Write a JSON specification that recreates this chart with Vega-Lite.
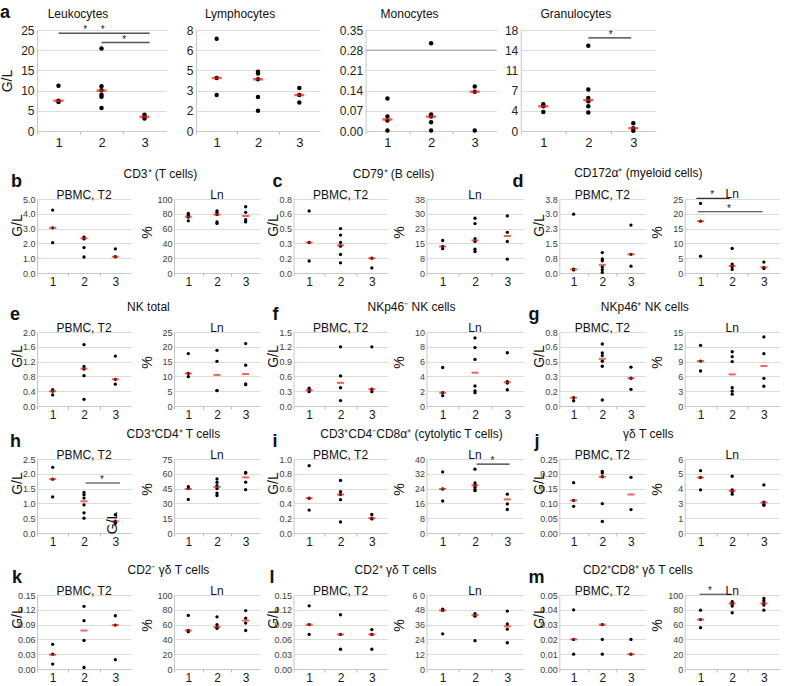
{
"$schema":"https://vega.github.io/schema/vega-lite/v6.json",
"background":"white",
"padding":{"left":0,"top":4,"right":4,"bottom":0},
"config":{
 "font":"Liberation Sans",
 "view":{"stroke":null},
 "title":{"font":"Liberation Sans","fontSize":12,"fontWeight":"normal","color":"#111","baseline":"alphabetic"},
 "axis":{"labelFont":"Liberation Sans","titleFont":"Liberation Sans","gridColor":"#dcdcdc","domainColor":"#c8c8c8","tickColor":"#bdbdbd","titleColor":"#111","titleFontWeight":"normal"},
 "axisX":{"grid":false,"labelFlush":false,"labelOverlap":false,"labelAngle":0,"tickSize":3,"labelPadding":0,"labelFontSize":12,"labelColor":"#1a1a1a"},
 "axisY":{"ticks":false,"labelPadding":2,"labelFontSize":9,"labelColor":"#404040","titleFontSize":14,"titleX":-13,"grid":true}
},
"datasets":{
"pts":[
{"p":"La","g":1,"v":11.2},{"p":"La","g":1,"v":7.5},{"p":"La","g":1,"v":7.2},{"p":"La","g":2,"v":20.4},{"p":"La","g":2,"v":11.1},{"p":"La","g":2,"v":10.1},{"p":"La","g":2,"v":9.0},{"p":"La","g":2,"v":8.5},{"p":"La","g":2,"v":5.7},{"p":"La","g":3,"v":4.0},{"p":"La","g":3,"v":3.5},{"p":"La","g":3,"v":3.1},
{"p":"Ly","g":1,"v":7.3},{"p":"Ly","g":1,"v":4.2},{"p":"Ly","g":1,"v":2.85},{"p":"Ly","g":2,"v":4.7},{"p":"Ly","g":2,"v":4.55},{"p":"Ly","g":2,"v":4.1},{"p":"Ly","g":2,"v":2.7},{"p":"Ly","g":2,"v":1.6},{"p":"Ly","g":3,"v":3.4},{"p":"Ly","g":3,"v":2.85},{"p":"Ly","g":3,"v":2.25},
{"p":"Mo","g":1,"v":0.113},{"p":"Mo","g":1,"v":0.05},{"p":"Mo","g":1,"v":0.036},{"p":"Mo","g":1,"v":0.002},{"p":"Mo","g":2,"v":0.304},{"p":"Mo","g":2,"v":0.057},{"p":"Mo","g":2,"v":0.05},{"p":"Mo","g":2,"v":0.03},{"p":"Mo","g":2,"v":0.002},{"p":"Mo","g":3,"v":0.154},{"p":"Mo","g":3,"v":0.136},{"p":"Mo","g":3,"v":0.002},
{"p":"Gr","g":1,"v":4.75},{"p":"Gr","g":1,"v":4.4},{"p":"Gr","g":1,"v":3.4},{"p":"Gr","g":2,"v":15.2},{"p":"Gr","g":2,"v":7.4},{"p":"Gr","g":2,"v":5.9},{"p":"Gr","g":2,"v":5.3},{"p":"Gr","g":2,"v":4.4},{"p":"Gr","g":2,"v":3.3},{"p":"Gr","g":3,"v":1.4},{"p":"Gr","g":3,"v":0.5},{"p":"Gr","g":3,"v":0.05},
{"p":"bP","g":1,"v":4.25},{"p":"bP","g":1,"v":3.05},{"p":"bP","g":1,"v":2.05},{"p":"bP","g":2,"v":2.43},{"p":"bP","g":2,"v":2.3},{"p":"bP","g":2,"v":1.72},{"p":"bP","g":2,"v":1.08},{"p":"bP","g":3,"v":1.63},{"p":"bP","g":3,"v":1.1},
{"p":"bL","g":1,"v":80.5},{"p":"bL","g":1,"v":78},{"p":"bL","g":1,"v":75.5},{"p":"bL","g":1,"v":70.5},{"p":"bL","g":2,"v":84},{"p":"bL","g":2,"v":82},{"p":"bL","g":2,"v":79},{"p":"bL","g":2,"v":69},{"p":"bL","g":2,"v":67},{"p":"bL","g":3,"v":89.5},{"p":"bL","g":3,"v":82},{"p":"bL","g":3,"v":72},{"p":"bL","g":3,"v":69},
{"p":"cP","g":1,"v":0.67},{"p":"cP","g":1,"v":0.33},{"p":"cP","g":1,"v":0.13},{"p":"cP","g":2,"v":0.48},{"p":"cP","g":2,"v":0.41},{"p":"cP","g":2,"v":0.33},{"p":"cP","g":2,"v":0.29},{"p":"cP","g":2,"v":0.2},{"p":"cP","g":2,"v":0.11},{"p":"cP","g":3,"v":0.16},{"p":"cP","g":3,"v":0.055},
{"p":"cL","g":1,"v":16.7},{"p":"cL","g":1,"v":13.6},{"p":"cL","g":1,"v":12.5},{"p":"cL","g":2,"v":28.1},{"p":"cL","g":2,"v":25.4},{"p":"cL","g":2,"v":17.6},{"p":"cL","g":2,"v":16.2},{"p":"cL","g":2,"v":12.2},{"p":"cL","g":2,"v":11},{"p":"cL","g":3,"v":29.3},{"p":"cL","g":3,"v":20.9},{"p":"cL","g":3,"v":16.2},{"p":"cL","g":3,"v":7.1},
{"p":"dP","g":1,"v":3.02},{"p":"dP","g":1,"v":0.2},{"p":"dP","g":1,"v":0.16},{"p":"dP","g":2,"v":1.05},{"p":"dP","g":2,"v":0.72},{"p":"dP","g":2,"v":0.63},{"p":"dP","g":2,"v":0.31},{"p":"dP","g":2,"v":0.17},{"p":"dP","g":2,"v":0.03},{"p":"dP","g":3,"v":2.46},{"p":"dP","g":3,"v":0.96},{"p":"dP","g":3,"v":0.35},
{"p":"dL","g":1,"v":23.5},{"p":"dL","g":1,"v":17.5},{"p":"dL","g":1,"v":5.7},{"p":"dL","g":2,"v":8.3},{"p":"dL","g":2,"v":3},{"p":"dL","g":2,"v":2.4},{"p":"dL","g":2,"v":2.2},{"p":"dL","g":2,"v":1.2},{"p":"dL","g":3,"v":3.7},{"p":"dL","g":3,"v":1.9},{"p":"dL","g":3,"v":1.5},
{"p":"eP","g":1,"v":0.44},{"p":"eP","g":1,"v":0.4},{"p":"eP","g":1,"v":0.3},{"p":"eP","g":2,"v":1.66},{"p":"eP","g":2,"v":1.07},{"p":"eP","g":2,"v":1.0},{"p":"eP","g":2,"v":0.82},{"p":"eP","g":2,"v":0.18},{"p":"eP","g":3,"v":1.35},{"p":"eP","g":3,"v":0.72},{"p":"eP","g":3,"v":0.59},
{"p":"eL","g":1,"v":17.7},{"p":"eL","g":1,"v":11},{"p":"eL","g":1,"v":9.9},{"p":"eL","g":2,"v":18.8},{"p":"eL","g":2,"v":15.1},{"p":"eL","g":2,"v":5.2},{"p":"eL","g":2,"v":5.2},{"p":"eL","g":3,"v":21.1},{"p":"eL","g":3,"v":13.8},{"p":"eL","g":3,"v":7.5},{"p":"eL","g":3,"v":7.2},
{"p":"fP","g":1,"v":0.36},{"p":"fP","g":1,"v":0.32},{"p":"fP","g":1,"v":0.29},{"p":"fP","g":2,"v":1.2},{"p":"fP","g":2,"v":0.61},{"p":"fP","g":2,"v":0.37},{"p":"fP","g":2,"v":0.11},{"p":"fP","g":3,"v":1.2},{"p":"fP","g":3,"v":0.34},{"p":"fP","g":3,"v":0.29},
{"p":"fL","g":1,"v":5.2},{"p":"fL","g":1,"v":1.8},{"p":"fL","g":1,"v":1.4},{"p":"fL","g":2,"v":9.2},{"p":"fL","g":2,"v":7.9},{"p":"fL","g":2,"v":6.3},{"p":"fL","g":2,"v":2.7},{"p":"fL","g":2,"v":2.05},{"p":"fL","g":2,"v":1.8},{"p":"fL","g":3,"v":7.2},{"p":"fL","g":3,"v":3.3},{"p":"fL","g":3,"v":3.1},{"p":"fL","g":3,"v":2.2},
{"p":"gP","g":1,"v":0.09},{"p":"gP","g":1,"v":0.057},{"p":"gP","g":2,"v":0.67},{"p":"gP","g":2,"v":0.575},{"p":"gP","g":2,"v":0.545},{"p":"gP","g":2,"v":0.485},{"p":"gP","g":2,"v":0.43},{"p":"gP","g":2,"v":0.065},{"p":"gP","g":3,"v":0.42},{"p":"gP","g":3,"v":0.3},{"p":"gP","g":3,"v":0.18},
{"p":"gL","g":1,"v":12.3},{"p":"gL","g":1,"v":9.1},{"p":"gL","g":1,"v":7.1},{"p":"gL","g":2,"v":11},{"p":"gL","g":2,"v":10},{"p":"gL","g":2,"v":9},{"p":"gL","g":2,"v":3.7},{"p":"gL","g":2,"v":3},{"p":"gL","g":2,"v":2.4},{"p":"gL","g":3,"v":14},{"p":"gL","g":3,"v":10.6},{"p":"gL","g":3,"v":5.6},{"p":"gL","g":3,"v":4},
{"p":"hP","g":1,"v":2.22},{"p":"hP","g":1,"v":1.82},{"p":"hP","g":1,"v":1.22},{"p":"hP","g":2,"v":1.37},{"p":"hP","g":2,"v":1.29},{"p":"hP","g":2,"v":1.18},{"p":"hP","g":2,"v":0.95},{"p":"hP","g":2,"v":0.68},{"p":"hP","g":2,"v":0.5},{"p":"hP","g":3,"v":0.62},{"p":"hP","g":3,"v":0.4},{"p":"hP","g":3,"v":0.33},
{"p":"hL","g":1,"v":47},{"p":"hL","g":1,"v":45},{"p":"hL","g":1,"v":34},{"p":"hL","g":2,"v":54.7},{"p":"hL","g":2,"v":51.4},{"p":"hL","g":2,"v":48},{"p":"hL","g":2,"v":45},{"p":"hL","g":2,"v":40.5},{"p":"hL","g":2,"v":38},{"p":"hL","g":3,"v":61.3},{"p":"hL","g":3,"v":60.8},{"p":"hL","g":3,"v":51.5},{"p":"hL","g":3,"v":43.9},
{"p":"iP","g":1,"v":0.91},{"p":"iP","g":1,"v":0.47},{"p":"iP","g":1,"v":0.31},{"p":"iP","g":2,"v":0.71},{"p":"iP","g":2,"v":0.56},{"p":"iP","g":2,"v":0.52},{"p":"iP","g":2,"v":0.45},{"p":"iP","g":2,"v":0.15},{"p":"iP","g":3,"v":0.25},{"p":"iP","g":3,"v":0.2},{"p":"iP","g":3,"v":0.19},
{"p":"iL","g":1,"v":33},{"p":"iL","g":1,"v":23.8},{"p":"iL","g":1,"v":17.3},{"p":"iL","g":2,"v":34.5},{"p":"iL","g":2,"v":27.1},{"p":"iL","g":2,"v":26},{"p":"iL","g":2,"v":24.7},{"p":"iL","g":2,"v":23.4},{"p":"iL","g":2,"v":22.9},{"p":"iL","g":3,"v":21},{"p":"iL","g":3,"v":15.7},{"p":"iL","g":3,"v":12.7},
{"p":"jP","g":1,"v":0.17},{"p":"jP","g":1,"v":0.11},{"p":"jP","g":1,"v":0.09},{"p":"jP","g":2,"v":0.208},{"p":"jP","g":2,"v":0.203},{"p":"jP","g":2,"v":0.19},{"p":"jP","g":2,"v":0.099},{"p":"jP","g":2,"v":0.039},{"p":"jP","g":3,"v":0.188},{"p":"jP","g":3,"v":0.079},
{"p":"jL","g":1,"v":5.05},{"p":"jL","g":1,"v":4.5},{"p":"jL","g":1,"v":3.5},{"p":"jL","g":2,"v":4.6},{"p":"jL","g":2,"v":3.5},{"p":"jL","g":2,"v":3.35},{"p":"jL","g":2,"v":3.15},{"p":"jL","g":3,"v":3.9},{"p":"jL","g":3,"v":2.5},{"p":"jL","g":3,"v":2.3},{"p":"jL","g":3,"v":2.25},
{"p":"kP","g":1,"v":0.05},{"p":"kP","g":1,"v":0.03},{"p":"kP","g":1,"v":0.01},{"p":"kP","g":2,"v":0.127},{"p":"kP","g":2,"v":0.098},{"p":"kP","g":2,"v":0.058},{"p":"kP","g":2,"v":0.003},{"p":"kP","g":3,"v":0.108},{"p":"kP","g":3,"v":0.089},{"p":"kP","g":3,"v":0.019},
{"p":"kL","g":1,"v":72.4},{"p":"kL","g":1,"v":52},{"p":"kL","g":1,"v":50.5},{"p":"kL","g":2,"v":70.5},{"p":"kL","g":2,"v":60},{"p":"kL","g":2,"v":56.5},{"p":"kL","g":2,"v":55},{"p":"kL","g":3,"v":79},{"p":"kL","g":3,"v":68.7},{"p":"kL","g":3,"v":62},{"p":"kL","g":3,"v":52},
{"p":"lP","g":1,"v":0.128},{"p":"lP","g":1,"v":0.09},{"p":"lP","g":1,"v":0.07},{"p":"lP","g":2,"v":0.11},{"p":"lP","g":2,"v":0.07},{"p":"lP","g":2,"v":0.04},{"p":"lP","g":3,"v":0.08},{"p":"lP","g":3,"v":0.07},{"p":"lP","g":3,"v":0.04},
{"p":"lL","g":1,"v":48.5},{"p":"lL","g":1,"v":47.5},{"p":"lL","g":1,"v":28.5},{"p":"lL","g":2,"v":44.8},{"p":"lL","g":2,"v":42.8},{"p":"lL","g":2,"v":23},{"p":"lL","g":3,"v":47},{"p":"lL","g":3,"v":36.5},{"p":"lL","g":3,"v":32.3},{"p":"lL","g":3,"v":21.3},
{"p":"mP","g":1,"v":0.04},{"p":"mP","g":1,"v":0.02},{"p":"mP","g":1,"v":0.01},{"p":"mP","g":2,"v":0.03},{"p":"mP","g":2,"v":0.02},{"p":"mP","g":2,"v":0.01},{"p":"mP","g":3,"v":0.02},{"p":"mP","g":3,"v":0.01},
{"p":"mL","g":1,"v":79.5},{"p":"mL","g":1,"v":66.8},{"p":"mL","g":1,"v":55.9},{"p":"mL","g":2,"v":91},{"p":"mL","g":2,"v":89},{"p":"mL","g":2,"v":88},{"p":"mL","g":2,"v":85},{"p":"mL","g":2,"v":76},{"p":"mL","g":3,"v":95.5},{"p":"mL","g":3,"v":92.3},{"p":"mL","g":3,"v":88.6},{"p":"mL","g":3,"v":86.4},{"p":"mL","g":3,"v":79.5}
],
"med":[
{"p":"La","g":1,"v":7.5},{"p":"La","g":2,"v":10.0},{"p":"La","g":3,"v":3.5},
{"p":"Ly","g":1,"v":4.2},{"p":"Ly","g":2,"v":4.1},{"p":"Ly","g":3,"v":2.85},
{"p":"Mo","g":1,"v":0.04},{"p":"Mo","g":2,"v":0.05},{"p":"Mo","g":3,"v":0.136},
{"p":"Gr","g":1,"v":4.4},{"p":"Gr","g":2,"v":5.5},{"p":"Gr","g":3,"v":0.5},
{"p":"bP","g":1,"v":3.05},{"p":"bP","g":2,"v":2.34},{"p":"bP","g":3,"v":1.1},
{"p":"bL","g":1,"v":76},{"p":"bL","g":2,"v":79},{"p":"bL","g":3,"v":77},
{"p":"cP","g":1,"v":0.33},{"p":"cP","g":2,"v":0.30},{"p":"cP","g":3,"v":0.16},
{"p":"cL","g":1,"v":13.6},{"p":"cL","g":2,"v":16.7},{"p":"cL","g":3,"v":19.0},
{"p":"dP","g":1,"v":0.19},{"p":"dP","g":2,"v":0.42},{"p":"dP","g":3,"v":0.96},
{"p":"dL","g":1,"v":17.5},{"p":"dL","g":2,"v":2.4},{"p":"dL","g":3,"v":1.9},
{"p":"eP","g":1,"v":0.40},{"p":"eP","g":2,"v":1.01},{"p":"eP","g":3,"v":0.72},
{"p":"eL","g":1,"v":11.0},{"p":"eL","g":2,"v":10.5},{"p":"eL","g":3,"v":10.8},
{"p":"fP","g":1,"v":0.32},{"p":"fP","g":2,"v":0.47},{"p":"fP","g":3,"v":0.34},
{"p":"fL","g":1,"v":1.8},{"p":"fL","g":2,"v":4.5},{"p":"fL","g":3,"v":3.2},
{"p":"gP","g":1,"v":0.09},{"p":"gP","g":2,"v":0.51},{"p":"gP","g":3,"v":0.30},
{"p":"gL","g":1,"v":9.1},{"p":"gL","g":2,"v":6.4},{"p":"gL","g":3,"v":8.1},
{"p":"hP","g":1,"v":1.82},{"p":"hP","g":2,"v":1.07},{"p":"hP","g":3,"v":0.39},
{"p":"hL","g":1,"v":44.6},{"p":"hL","g":2,"v":46.6},{"p":"hL","g":3,"v":56.4},
{"p":"iP","g":1,"v":0.47},{"p":"iP","g":2,"v":0.52},{"p":"iP","g":3,"v":0.20},
{"p":"iL","g":1,"v":23.8},{"p":"iL","g":2,"v":25.8},{"p":"iL","g":3,"v":18.2},
{"p":"jP","g":1,"v":0.11},{"p":"jP","g":2,"v":0.19},{"p":"jP","g":3,"v":0.13},
{"p":"jL","g":1,"v":4.5},{"p":"jL","g":2,"v":3.42},{"p":"jL","g":3,"v":2.47},
{"p":"kP","g":1,"v":0.029},{"p":"kP","g":2,"v":0.078},{"p":"kP","g":3,"v":0.089},
{"p":"kL","g":1,"v":52},{"p":"kL","g":2,"v":56.7},{"p":"kL","g":3,"v":65.4},
{"p":"lP","g":1,"v":0.09},{"p":"lP","g":2,"v":0.07},{"p":"lP","g":3,"v":0.07},
{"p":"lL","g":1,"v":47.5},{"p":"lL","g":2,"v":43.7},{"p":"lL","g":3,"v":34.6},
{"p":"mP","g":1,"v":0.02},{"p":"mP","g":2,"v":0.03},{"p":"mP","g":3,"v":0.01},
{"p":"mL","g":1,"v":66.8},{"p":"mL","g":2,"v":88.6},{"p":"mL","g":3,"v":88.6}
],
"sig":[
{"p":"La","g":1,"g2":3.12,"v":24.2},{"p":"La","g":2,"g2":3.12,"v":21.9},
{"p":"Gr","g":2,"g2":2.95,"v":16.6},
{"p":"dL","g":0.87,"g2":1.92,"v":25.2},{"p":"dL","g":0.92,"g2":2.96,"v":20.7},
{"p":"hP","g":2.05,"g2":3.15,"v":1.69},
{"p":"iL","g":2.05,"g2":3.07,"v":37.2},
{"p":"mL","g":0.97,"g2":1.98,"v":101}
],
"ref":[{"p":"Mo","g":0.5,"g2":3.5,"v":0.28}],
"star":[
{"p":"La","g":1.62,"v":24.2},{"p":"La","g":2.03,"v":24.2},{"p":"La","g":2.53,"v":21.9},
{"p":"Gr","g":2.5,"v":16.6},
{"p":"dL","g":1.37,"v":25.2},{"p":"dL","g":1.9,"v":20.7},
{"p":"hP","g":2.57,"v":1.69},
{"p":"iL","g":2.54,"v":37.2},
{"p":"mL","g":1.3,"v":101}
],
"note":[{"p":"hP","g":2.93,"v":0.34,"t":"G/L"}]
},
"align":"none",
"spacing":18,
"vconcat":[
 {"spacing":18.6,"hconcat":[
  {"spacing":20,"hconcat":[
   {"title":{"text":"a","anchor":"start","frame":"bounds","fontSize":18,"fontWeight":"bold","offset":-14.5},"hconcat":[
    {"width":129,"height":101,"title":{"text":"Leukocytes","offset":3.5,"dx":-23.5},
     "encoding":{"x":{"field":"g","type":"quantitative","scale":{"domain":[0.5,3.5],"nice":false,"zero":false},"axis":{"values":[0.5,1.5,2.5],"labelExpr":"format(datum.value+0.5,'d')","labelOffset":21.5,"title":null,"labelFontSize":13,"labelPadding":2}},
      "y":{"field":"v","type":"quantitative","scale":{"domain":[0,25],"nice":false,"zero":false},"axis":{"values":[0,5,10,15,20,25],"format":"d","title":"G/L","titleX":-23,"labelFontSize":12,"labelPadding":3,"labelColor":"#222"}}},
     "layer":[
      {"data":{"name":"pts"},"transform":[{"filter":"datum.p=='La'"}],"mark":{"type":"circle","size":20,"color":"#000","opacity":1}},
      {"data":{"name":"med"},"transform":[{"filter":"datum.p=='La'"}],"mark":{"type":"tick","orient":"horizontal","size":10,"thickness":2.5,"color":"#e32219"}},
      {"data":{"name":"sig"},"transform":[{"filter":"datum.p=='La'"}],"mark":{"type":"rule","color":"#555","stroke":"#555","strokeWidth":1.5},"encoding":{"x2":{"field":"g2"}}},
      {"data":{"name":"star"},"transform":[{"filter":"datum.p=='La'"}],"mark":{"type":"text","text":"*","fontSize":10,"baseline":"alphabetic","align":"center","color":"#222","fill":"#222"}}
     ]}
   ]},
   {"title":{"text":" ","anchor":"start","frame":"bounds","fontSize":18,"fontWeight":"bold","offset":-14.5},"hconcat":[
    {"width":124,"height":101,"title":{"text":"Lymphocytes","offset":3.5,"dx":-18},
     "encoding":{"x":{"field":"g","type":"quantitative","scale":{"domain":[0.5,3.5],"nice":false,"zero":false},"axis":{"values":[0.5,1.5,2.5],"labelExpr":"format(datum.value+0.5,'d')","labelOffset":20.7,"title":null,"labelFontSize":13,"labelPadding":2}},
      "y":{"field":"v","type":"quantitative","scale":{"domain":[0,8],"nice":false,"zero":false},"axis":{"values":[0,1.6,3.2,4.8,6.4,8],"format":".0f","title":null,"labelFontSize":12,"labelPadding":3,"labelColor":"#222"}}},
     "layer":[
      {"data":{"name":"pts"},"transform":[{"filter":"datum.p=='Ly'"}],"mark":{"type":"circle","size":20,"color":"#000","opacity":1}},
      {"data":{"name":"med"},"transform":[{"filter":"datum.p=='Ly'"}],"mark":{"type":"tick","orient":"horizontal","size":10,"thickness":2.5,"color":"#e32219"}}
     ]}
   ]}
  ]},
  {"spacing":6.2,"hconcat":[
   {"title":{"text":" ","anchor":"start","frame":"bounds","fontSize":18,"fontWeight":"bold","offset":-14.5},"hconcat":[
    {"width":131,"height":101,"title":{"text":"Monocytes","offset":3.5,"dx":-21.5},
     "encoding":{"x":{"field":"g","type":"quantitative","scale":{"domain":[0.5,3.5],"nice":false,"zero":false},"axis":{"values":[0.5,1.5,2.5],"labelExpr":"format(datum.value+0.5,'d')","labelOffset":21.8,"title":null,"labelFontSize":13,"labelPadding":2}},
      "y":{"field":"v","type":"quantitative","scale":{"domain":[0,0.35],"nice":false,"zero":false},"axis":{"values":[0,0.07,0.14,0.21,0.28,0.35],"format":".2f","title":null,"labelFontSize":12,"labelPadding":3,"labelColor":"#222"}}},
     "layer":[
      {"data":{"name":"ref"},"transform":[{"filter":"datum.p=='Mo'"}],"mark":{"type":"rule","color":"#9a9a9a","stroke":"#9a9a9a","strokeWidth":1},"encoding":{"x2":{"field":"g2"}}},
      {"data":{"name":"pts"},"transform":[{"filter":"datum.p=='Mo'"}],"mark":{"type":"circle","size":20,"color":"#000","opacity":1}},
      {"data":{"name":"med"},"transform":[{"filter":"datum.p=='Mo'"}],"mark":{"type":"tick","orient":"horizontal","size":10,"thickness":2.5,"color":"#e32219"}}
     ]}
   ]},
   {"title":{"text":" ","anchor":"start","frame":"bounds","fontSize":18,"fontWeight":"bold","offset":-14.5},"hconcat":[
    {"width":135,"height":101,"title":{"text":"Granulocytes","offset":3.5,"dx":-12.5},
     "encoding":{"x":{"field":"g","type":"quantitative","scale":{"domain":[0.5,3.5],"nice":false,"zero":false},"axis":{"values":[0.5,1.5,2.5],"labelExpr":"format(datum.value+0.5,'d')","labelOffset":22.5,"title":null,"labelFontSize":13,"labelPadding":2}},
      "y":{"field":"v","type":"quantitative","scale":{"domain":[0,18],"nice":false,"zero":false},"axis":{"values":[0,3.6,7.2,10.8,14.4,18],"format":".0f","title":null,"labelFontSize":12,"labelPadding":3,"labelColor":"#222"}}},
     "layer":[
      {"data":{"name":"pts"},"transform":[{"filter":"datum.p=='Gr'"}],"mark":{"type":"circle","size":20,"color":"#000","opacity":1}},
      {"data":{"name":"med"},"transform":[{"filter":"datum.p=='Gr'"}],"mark":{"type":"tick","orient":"horizontal","size":10,"thickness":2.5,"color":"#e32219"}},
      {"data":{"name":"sig"},"transform":[{"filter":"datum.p=='Gr'"}],"mark":{"type":"rule","color":"#333","stroke":"#333","strokeWidth":1.3},"encoding":{"x2":{"field":"g2"}}},
      {"data":{"name":"star"},"transform":[{"filter":"datum.p=='Gr'"}],"mark":{"type":"text","text":"*","fontSize":10,"baseline":"alphabetic","align":"center","color":"#222","fill":"#222"}}
     ]}
   ]}
  ]}
 ]},
 {"spacing":8,"vconcat":[
 {"spacing":14,"vconcat":[
  {"spacing":8.3,"hconcat":[
   {"spacing":6.5,"hconcat":[
   {"spacing":9,"title":{"text":"CD3⁺ (T cells)","anchor":"middle","frame":"bounds","offset":-8,"dx":25.4},"hconcat":[
    {"title":{"text":"b","anchor":"start","frame":"bounds","fontSize":18,"fontWeight":"bold","offset":-2,"dx":1},"hconcat":[
     {"width":94,"height":74,"title":{"text":"PBMC, T2","offset":-7},
      "encoding":{"x":{"field":"g","type":"quantitative","scale":{"domain":[0.5,3.5],"nice":false,"zero":false},"axis":{"values":[0.5,1.5,2.5],"labelExpr":"format(datum.value+0.5,'d')","labelOffset":15.67,"title":null}},
       "y":{"field":"v","type":"quantitative","scale":{"domain":[0,5],"nice":false,"zero":false},"axis":{"values":[0,1,2,3,4,5],"format":".1f","title":"G/L","titleY":26}}},
      "layer":[
       {"data":{"name":"pts"},"transform":[{"filter":"datum.p=='bP'"}],"mark":{"type":"circle","size":11,"color":"#000","opacity":1}},
       {"data":{"name":"med"},"transform":[{"filter":"datum.p=='bP'"}],"mark":{"type":"tick","orient":"horizontal","size":7,"thickness":2,"color":"#e32219"}}
      ]}
    ]},
    {"title":{"text":" ","anchor":"start","frame":"bounds","fontSize":18,"fontWeight":"bold","offset":-2},"hconcat":[
     {"width":86,"height":74,"title":{"text":"Ln","offset":-7},
      "encoding":{"x":{"field":"g","type":"quantitative","scale":{"domain":[0.5,3.5],"nice":false,"zero":false},"axis":{"values":[0.5,1.5,2.5],"labelExpr":"format(datum.value+0.5,'d')","labelOffset":14.33,"title":null}},
       "y":{"field":"v","type":"quantitative","scale":{"domain":[0,100],"nice":false,"zero":false},"axis":{"values":[0,20,40,60,80,100],"format":"d","title":"%","titleX":-20,"titleY":33}}},
      "layer":[
       {"data":{"name":"pts"},"transform":[{"filter":"datum.p=='bL'"}],"mark":{"type":"circle","size":11,"color":"#000","opacity":1}},
       {"data":{"name":"med"},"transform":[{"filter":"datum.p=='bL'"}],"mark":{"type":"tick","orient":"horizontal","size":7,"thickness":2,"color":"#e32219"}}
      ]}
    ]}
   ]},
   {"spacing":5,"title":{"text":"CD79⁺ (B cells)","anchor":"middle","frame":"bounds","offset":-8,"dx":-1.5},"hconcat":[
    {"title":{"text":"c","anchor":"start","frame":"bounds","fontSize":18,"fontWeight":"bold","offset":-2,"dx":6},"hconcat":[
     {"width":94,"height":74,"title":{"text":"PBMC, T2","offset":-7},
      "encoding":{"x":{"field":"g","type":"quantitative","scale":{"domain":[0.5,3.5],"nice":false,"zero":false},"axis":{"values":[0.5,1.5,2.5],"labelExpr":"format(datum.value+0.5,'d')","labelOffset":15.67,"title":null}},
       "y":{"field":"v","type":"quantitative","scale":{"domain":[0,0.8],"nice":false,"zero":false},"axis":{"values":[0,0.16,0.32,0.48,0.64,0.8],"format":".1f","title":"G/L","titleY":26}}},
      "layer":[
       {"data":{"name":"pts"},"transform":[{"filter":"datum.p=='cP'"}],"mark":{"type":"circle","size":11,"color":"#000","opacity":1}},
       {"data":{"name":"med"},"transform":[{"filter":"datum.p=='cP'"}],"mark":{"type":"tick","orient":"horizontal","size":7,"thickness":2,"color":"#e32219"}}
      ]}
    ]},
    {"title":{"text":"d","anchor":"end","frame":"bounds","fontSize":18,"fontWeight":"bold","offset":-2},"hconcat":[
     {"width":97,"height":74,"title":{"text":"Ln","offset":-7},
      "encoding":{"x":{"field":"g","type":"quantitative","scale":{"domain":[0.5,3.5],"nice":false,"zero":false},"axis":{"values":[0.5,1.5,2.5],"labelExpr":"format(datum.value+0.5,'d')","labelOffset":16.17,"title":null}},
       "y":{"field":"v","type":"quantitative","scale":{"domain":[0,38],"nice":false,"zero":false},"axis":{"values":[0,7.6,15.2,22.8,30.4,38],"format":".0f","title":"%","titleX":-20,"titleY":33}}},
      "layer":[
       {"data":{"name":"pts"},"transform":[{"filter":"datum.p=='cL'"}],"mark":{"type":"circle","size":11,"color":"#000","opacity":1}},
       {"data":{"name":"med"},"transform":[{"filter":"datum.p=='cL'"}],"mark":{"type":"tick","orient":"horizontal","size":7,"thickness":2,"color":"#e32219"}}
      ]}
    ]}
   ]}
   ]},
   {"spacing":5.4,"title":{"text":"CD172α⁺ (myeloid cells)","anchor":"middle","frame":"bounds","offset":-8,"dx":-17.7},"hconcat":[
    {"title":{"text":" ","anchor":"start","frame":"bounds","fontSize":18,"fontWeight":"bold","offset":-2},"hconcat":[
     {"width":86,"height":74,"title":{"text":"PBMC, T2","offset":-7},
      "encoding":{"x":{"field":"g","type":"quantitative","scale":{"domain":[0.5,3.5],"nice":false,"zero":false},"axis":{"values":[0.5,1.5,2.5],"labelExpr":"format(datum.value+0.5,'d')","labelOffset":14.33,"title":null}},
       "y":{"field":"v","type":"quantitative","scale":{"domain":[0,3.8],"nice":false,"zero":false},"axis":{"values":[0,0.76,1.52,2.28,3.04,3.8],"format":".1f","title":"G/L","titleY":26}}},
      "layer":[
       {"data":{"name":"pts"},"transform":[{"filter":"datum.p=='dP'"}],"mark":{"type":"circle","size":11,"color":"#000","opacity":1}},
       {"data":{"name":"med"},"transform":[{"filter":"datum.p=='dP'"}],"mark":{"type":"tick","orient":"horizontal","size":7,"thickness":2,"color":"#e32219"}}
      ]}
    ]},
    {"title":{"text":" ","anchor":"start","frame":"bounds","fontSize":18,"fontWeight":"bold","offset":-2},"hconcat":[
     {"width":95,"height":74,"title":{"text":"Ln","offset":-11},
      "encoding":{"x":{"field":"g","type":"quantitative","scale":{"domain":[0.5,3.5],"nice":false,"zero":false},"axis":{"values":[0.5,1.5,2.5],"labelExpr":"format(datum.value+0.5,'d')","labelOffset":15.83,"title":null}},
       "y":{"field":"v","type":"quantitative","scale":{"domain":[0,25],"nice":false,"zero":false},"axis":{"values":[0,5,10,15,20,25],"format":"d","title":"%","titleX":-20,"titleY":33}}},
      "layer":[
       {"data":{"name":"pts"},"transform":[{"filter":"datum.p=='dL'"}],"mark":{"type":"circle","size":11,"color":"#000","opacity":1}},
       {"data":{"name":"med"},"transform":[{"filter":"datum.p=='dL'"}],"mark":{"type":"tick","orient":"horizontal","size":7,"thickness":2,"color":"#e32219"}},
       {"data":{"name":"sig"},"transform":[{"filter":"datum.p=='dL'"}],"mark":{"type":"rule","color":"#333","stroke":"#333","strokeWidth":1.2},"encoding":{"x2":{"field":"g2"}}},
       {"data":{"name":"star"},"transform":[{"filter":"datum.p=='dL'"}],"mark":{"type":"text","text":"*","fontSize":10,"baseline":"alphabetic","align":"center","color":"#222","fill":"#222"}}
      ]}
    ]}
   ]}
  ]},
  {"spacing":-7.7,"hconcat":[
   {"spacing":6.5,"hconcat":[
   {"spacing":9,"title":{"text":"NK total","anchor":"middle","frame":"bounds","offset":-8,"dx":13.4},"hconcat":[
    {"title":{"text":"e","anchor":"start","frame":"bounds","fontSize":18,"fontWeight":"bold","offset":-2,"dx":0},"hconcat":[
     {"width":94,"height":74,"title":{"text":"PBMC, T2","offset":-7},
      "encoding":{"x":{"field":"g","type":"quantitative","scale":{"domain":[0.5,3.5],"nice":false,"zero":false},"axis":{"values":[0.5,1.5,2.5],"labelExpr":"format(datum.value+0.5,'d')","labelOffset":15.67,"title":null}},
       "y":{"field":"v","type":"quantitative","scale":{"domain":[0,2],"nice":false,"zero":false},"axis":{"values":[0,0.4,0.8,1.2,1.6,2],"format":".1f","title":"G/L","titleY":24}}},
      "layer":[
       {"data":{"name":"pts"},"transform":[{"filter":"datum.p=='eP'"}],"mark":{"type":"circle","size":11,"color":"#000","opacity":1}},
       {"data":{"name":"med"},"transform":[{"filter":"datum.p=='eP'"}],"mark":{"type":"tick","orient":"horizontal","size":7,"thickness":2,"color":"#e32219"}}
      ]}
    ]},
    {"title":{"text":" ","anchor":"start","frame":"bounds","fontSize":18,"fontWeight":"bold","offset":-2},"hconcat":[
     {"width":86,"height":74,"title":{"text":"Ln","offset":-7},
      "encoding":{"x":{"field":"g","type":"quantitative","scale":{"domain":[0.5,3.5],"nice":false,"zero":false},"axis":{"values":[0.5,1.5,2.5],"labelExpr":"format(datum.value+0.5,'d')","labelOffset":14.33,"title":null}},
       "y":{"field":"v","type":"quantitative","scale":{"domain":[0,25],"nice":false,"zero":false},"axis":{"values":[0,5,10,15,20,25],"format":"d","title":"%","titleX":-20,"titleY":30}}},
      "layer":[
       {"data":{"name":"pts"},"transform":[{"filter":"datum.p=='eL'"}],"mark":{"type":"circle","size":11,"color":"#000","opacity":1}},
       {"data":{"name":"med"},"transform":[{"filter":"datum.p=='eL'"}],"mark":{"type":"tick","orient":"horizontal","size":7,"thickness":2,"color":"#e32219"}}
      ]}
    ]}
   ]},
   {"spacing":5,"title":{"text":"NKp46⁻ NK cells","anchor":"middle","frame":"bounds","offset":-8,"dx":8.5},"hconcat":[
    {"title":{"text":"f","anchor":"start","frame":"bounds","fontSize":18,"fontWeight":"bold","offset":-2,"dx":6},"hconcat":[
     {"width":94,"height":74,"title":{"text":"PBMC, T2","offset":-7},
      "encoding":{"x":{"field":"g","type":"quantitative","scale":{"domain":[0.5,3.5],"nice":false,"zero":false},"axis":{"values":[0.5,1.5,2.5],"labelExpr":"format(datum.value+0.5,'d')","labelOffset":15.67,"title":null}},
       "y":{"field":"v","type":"quantitative","scale":{"domain":[0,1.5],"nice":false,"zero":false},"axis":{"values":[0,0.3,0.6,0.9,1.2,1.5],"format":".1f","title":"G/L","titleY":24}}},
      "layer":[
       {"data":{"name":"pts"},"transform":[{"filter":"datum.p=='fP'"}],"mark":{"type":"circle","size":11,"color":"#000","opacity":1}},
       {"data":{"name":"med"},"transform":[{"filter":"datum.p=='fP'"}],"mark":{"type":"tick","orient":"horizontal","size":7,"thickness":2,"color":"#e32219"}}
      ]}
    ]},
    {"title":{"text":"g","anchor":"end","frame":"bounds","fontSize":18,"fontWeight":"bold","offset":-2,"dx":16},"hconcat":[
     {"width":97,"height":74,"title":{"text":"Ln","offset":-7},
      "encoding":{"x":{"field":"g","type":"quantitative","scale":{"domain":[0.5,3.5],"nice":false,"zero":false},"axis":{"values":[0.5,1.5,2.5],"labelExpr":"format(datum.value+0.5,'d')","labelOffset":16.17,"title":null}},
       "y":{"field":"v","type":"quantitative","scale":{"domain":[0,10],"nice":false,"zero":false},"axis":{"values":[0,2,4,6,8,10],"format":"d","title":"%","titleX":-20,"titleY":30}}},
      "layer":[
       {"data":{"name":"pts"},"transform":[{"filter":"datum.p=='fL'"}],"mark":{"type":"circle","size":11,"color":"#000","opacity":1}},
       {"data":{"name":"med"},"transform":[{"filter":"datum.p=='fL'"}],"mark":{"type":"tick","orient":"horizontal","size":7,"thickness":2,"color":"#e32219"}}
      ]}
    ]}
   ]}
   ]},
   {"spacing":5.4,"title":{"text":"NKp46⁺ NK cells","anchor":"middle","frame":"bounds","offset":-8,"dx":-11.2},"hconcat":[
    {"title":{"text":" ","anchor":"start","frame":"bounds","fontSize":18,"fontWeight":"bold","offset":-2},"hconcat":[
     {"width":86,"height":74,"title":{"text":"PBMC, T2","offset":-7},
      "encoding":{"x":{"field":"g","type":"quantitative","scale":{"domain":[0.5,3.5],"nice":false,"zero":false},"axis":{"values":[0.5,1.5,2.5],"labelExpr":"format(datum.value+0.5,'d')","labelOffset":14.33,"title":null}},
       "y":{"field":"v","type":"quantitative","scale":{"domain":[0,0.8],"nice":false,"zero":false},"axis":{"values":[0,0.16,0.32,0.48,0.64,0.8],"format":".1f","title":"G/L","titleY":24}}},
      "layer":[
       {"data":{"name":"pts"},"transform":[{"filter":"datum.p=='gP'"}],"mark":{"type":"circle","size":11,"color":"#000","opacity":1}},
       {"data":{"name":"med"},"transform":[{"filter":"datum.p=='gP'"}],"mark":{"type":"tick","orient":"horizontal","size":7,"thickness":2,"color":"#e32219"}}
      ]}
    ]},
    {"title":{"text":" ","anchor":"start","frame":"bounds","fontSize":18,"fontWeight":"bold","offset":-2},"hconcat":[
     {"width":95,"height":74,"title":{"text":"Ln","offset":-7},
      "encoding":{"x":{"field":"g","type":"quantitative","scale":{"domain":[0.5,3.5],"nice":false,"zero":false},"axis":{"values":[0.5,1.5,2.5],"labelExpr":"format(datum.value+0.5,'d')","labelOffset":15.83,"title":null}},
       "y":{"field":"v","type":"quantitative","scale":{"domain":[0,15],"nice":false,"zero":false},"axis":{"values":[0,3,6,9,12,15],"format":"d","title":"%","titleX":-20,"titleY":30}}},
      "layer":[
       {"data":{"name":"pts"},"transform":[{"filter":"datum.p=='gL'"}],"mark":{"type":"circle","size":11,"color":"#000","opacity":1}},
       {"data":{"name":"med"},"transform":[{"filter":"datum.p=='gL'"}],"mark":{"type":"tick","orient":"horizontal","size":7,"thickness":2,"color":"#e32219"}}
      ]}
    ]}
   ]}
  ]}
 ]},
 {"spacing":16,"vconcat":[
  {"spacing":-7.7,"hconcat":[
   {"spacing":6.5,"hconcat":[
   {"spacing":9,"title":{"text":"CD3⁺CD4⁺ T cells","anchor":"middle","frame":"bounds","offset":-8,"dx":38.4},"hconcat":[
    {"title":{"text":"h","anchor":"start","frame":"bounds","fontSize":18,"fontWeight":"bold","offset":-2,"dx":0},"hconcat":[
     {"width":94,"height":74,"title":{"text":"PBMC, T2","offset":-7},
      "encoding":{"x":{"field":"g","type":"quantitative","scale":{"domain":[0.5,3.5],"nice":false,"zero":false},"axis":{"values":[0.5,1.5,2.5],"labelExpr":"format(datum.value+0.5,'d')","labelOffset":15.67,"title":null}},
       "y":{"field":"v","type":"quantitative","scale":{"domain":[0,2.5],"nice":false,"zero":false},"axis":{"values":[0,0.5,1,1.5,2,2.5],"format":".1f","title":"G/L","titleY":24}}},
      "layer":[
       {"data":{"name":"pts"},"transform":[{"filter":"datum.p=='hP'"}],"mark":{"type":"circle","size":11,"color":"#000","opacity":1}},
       {"data":{"name":"med"},"transform":[{"filter":"datum.p=='hP'"}],"mark":{"type":"tick","orient":"horizontal","size":7,"thickness":2,"color":"#e32219"}},
       {"data":{"name":"sig"},"transform":[{"filter":"datum.p=='hP'"}],"mark":{"type":"rule","color":"#333","stroke":"#333","strokeWidth":1.2},"encoding":{"x2":{"field":"g2"}}},
       {"data":{"name":"star"},"transform":[{"filter":"datum.p=='hP'"}],"mark":{"type":"text","text":"*","fontSize":10,"baseline":"alphabetic","align":"center","color":"#222","fill":"#222"}},
       {"data":{"name":"note"},"transform":[{"filter":"datum.p=='hP'"}],"mark":{"type":"text","angle":270,"fontSize":14,"baseline":"middle","align":"center","color":"#111","fill":"#111"},"encoding":{"text":{"field":"t"}}}
      ]}
    ]},
    {"title":{"text":" ","anchor":"start","frame":"bounds","fontSize":18,"fontWeight":"bold","offset":-2},"hconcat":[
     {"width":86,"height":74,"title":{"text":"Ln","offset":-7},
      "encoding":{"x":{"field":"g","type":"quantitative","scale":{"domain":[0.5,3.5],"nice":false,"zero":false},"axis":{"values":[0.5,1.5,2.5],"labelExpr":"format(datum.value+0.5,'d')","labelOffset":14.33,"title":null}},
       "y":{"field":"v","type":"quantitative","scale":{"domain":[0,75],"nice":false,"zero":false},"axis":{"values":[0,15,30,45,60,75],"format":"d","title":"%","titleX":-20,"titleY":30}}},
      "layer":[
       {"data":{"name":"pts"},"transform":[{"filter":"datum.p=='hL'"}],"mark":{"type":"circle","size":11,"color":"#000","opacity":1}},
       {"data":{"name":"med"},"transform":[{"filter":"datum.p=='hL'"}],"mark":{"type":"tick","orient":"horizontal","size":7,"thickness":2,"color":"#e32219"}}
      ]}
    ]}
   ]},
   {"spacing":5,"title":{"text":"CD3⁺CD4⁻CD8α⁺ (cytolytic T cells)","anchor":"middle","frame":"bounds","offset":-8,"dx":8.5},"hconcat":[
    {"title":{"text":"i","anchor":"start","frame":"bounds","fontSize":18,"fontWeight":"bold","offset":-2,"dx":6},"hconcat":[
     {"width":94,"height":74,"title":{"text":"PBMC, T2","offset":-7},
      "encoding":{"x":{"field":"g","type":"quantitative","scale":{"domain":[0.5,3.5],"nice":false,"zero":false},"axis":{"values":[0.5,1.5,2.5],"labelExpr":"format(datum.value+0.5,'d')","labelOffset":15.67,"title":null}},
       "y":{"field":"v","type":"quantitative","scale":{"domain":[0,1],"nice":false,"zero":false},"axis":{"values":[0,0.2,0.4,0.6,0.8,1],"format":".1f","title":"G/L","titleY":24}}},
      "layer":[
       {"data":{"name":"pts"},"transform":[{"filter":"datum.p=='iP'"}],"mark":{"type":"circle","size":11,"color":"#000","opacity":1}},
       {"data":{"name":"med"},"transform":[{"filter":"datum.p=='iP'"}],"mark":{"type":"tick","orient":"horizontal","size":7,"thickness":2,"color":"#e32219"}}
      ]}
    ]},
    {"title":{"text":"j","anchor":"end","frame":"bounds","fontSize":18,"fontWeight":"bold","offset":-2,"dx":16},"hconcat":[
     {"width":97,"height":74,"title":{"text":"Ln","offset":-7},
      "encoding":{"x":{"field":"g","type":"quantitative","scale":{"domain":[0.5,3.5],"nice":false,"zero":false},"axis":{"values":[0.5,1.5,2.5],"labelExpr":"format(datum.value+0.5,'d')","labelOffset":16.17,"title":null}},
       "y":{"field":"v","type":"quantitative","scale":{"domain":[0,40],"nice":false,"zero":false},"axis":{"values":[0,8,16,24,32,40],"format":"d","title":"%","titleX":-20,"titleY":30}}},
      "layer":[
       {"data":{"name":"pts"},"transform":[{"filter":"datum.p=='iL'"}],"mark":{"type":"circle","size":11,"color":"#000","opacity":1}},
       {"data":{"name":"med"},"transform":[{"filter":"datum.p=='iL'"}],"mark":{"type":"tick","orient":"horizontal","size":7,"thickness":2,"color":"#e32219"}},
       {"data":{"name":"sig"},"transform":[{"filter":"datum.p=='iL'"}],"mark":{"type":"rule","color":"#333","stroke":"#333","strokeWidth":1.2},"encoding":{"x2":{"field":"g2"}}},
       {"data":{"name":"star"},"transform":[{"filter":"datum.p=='iL'"}],"mark":{"type":"text","text":"*","fontSize":10,"baseline":"alphabetic","align":"center","color":"#222","fill":"#222"}}
      ]}
    ]}
   ]}
   ]},
   {"spacing":5.4,"title":{"text":"γδ T cells","anchor":"middle","frame":"bounds","offset":-8,"dx":-7.7},"hconcat":[
    {"title":{"text":" ","anchor":"start","frame":"bounds","fontSize":18,"fontWeight":"bold","offset":-2},"hconcat":[
     {"width":86,"height":74,"title":{"text":"PBMC, T2","offset":-7},
      "encoding":{"x":{"field":"g","type":"quantitative","scale":{"domain":[0.5,3.5],"nice":false,"zero":false},"axis":{"values":[0.5,1.5,2.5],"labelExpr":"format(datum.value+0.5,'d')","labelOffset":14.33,"title":null}},
       "y":{"field":"v","type":"quantitative","scale":{"domain":[0,0.25],"nice":false,"zero":false},"axis":{"values":[0,0.05,0.1,0.15,0.2,0.25],"format":".2f","title":"G/L","titleY":24}}},
      "layer":[
       {"data":{"name":"pts"},"transform":[{"filter":"datum.p=='jP'"}],"mark":{"type":"circle","size":11,"color":"#000","opacity":1}},
       {"data":{"name":"med"},"transform":[{"filter":"datum.p=='jP'"}],"mark":{"type":"tick","orient":"horizontal","size":7,"thickness":2,"color":"#e32219"}}
      ]}
    ]},
    {"title":{"text":" ","anchor":"start","frame":"bounds","fontSize":18,"fontWeight":"bold","offset":-2},"hconcat":[
     {"width":95,"height":74,"title":{"text":"Ln","offset":-7},
      "encoding":{"x":{"field":"g","type":"quantitative","scale":{"domain":[0.5,3.5],"nice":false,"zero":false},"axis":{"values":[0.5,1.5,2.5],"labelExpr":"format(datum.value+0.5,'d')","labelOffset":15.83,"title":null}},
       "y":{"field":"v","type":"quantitative","scale":{"domain":[0,6],"nice":false,"zero":false},"axis":{"values":[0,1.2,2.4,3.6,4.8,6],"labelExpr":"datum.value==2.4?'3':format(datum.value,'.0f')","title":"%","titleX":-20,"titleY":30}}},
      "layer":[
       {"data":{"name":"pts"},"transform":[{"filter":"datum.p=='jL'"}],"mark":{"type":"circle","size":11,"color":"#000","opacity":1}},
       {"data":{"name":"med"},"transform":[{"filter":"datum.p=='jL'"}],"mark":{"type":"tick","orient":"horizontal","size":7,"thickness":2,"color":"#e32219"}}
      ]}
    ]}
   ]}
  ]},
  {"spacing":-12.7,"hconcat":[
   {"spacing":6.5,"hconcat":[
   {"spacing":9,"title":{"text":"CD2⁻ γδ T cells","anchor":"middle","frame":"bounds","offset":-8,"dx":33.4},"hconcat":[
    {"title":{"text":"k","anchor":"start","frame":"bounds","fontSize":18,"fontWeight":"bold","offset":-2,"dx":2},"hconcat":[
     {"width":94,"height":74,"title":{"text":"PBMC, T2","offset":-7},
      "encoding":{"x":{"field":"g","type":"quantitative","scale":{"domain":[0.5,3.5],"nice":false,"zero":false},"axis":{"values":[0.5,1.5,2.5],"labelExpr":"format(datum.value+0.5,'d')","labelOffset":15.67,"title":null}},
       "y":{"field":"v","type":"quantitative","scale":{"domain":[0,0.15],"nice":false,"zero":false},"axis":{"values":[0,0.03,0.06,0.09,0.12,0.15],"format":".2f","title":"G/L","titleY":22}}},
      "layer":[
       {"data":{"name":"pts"},"transform":[{"filter":"datum.p=='kP'"}],"mark":{"type":"circle","size":11,"color":"#000","opacity":1}},
       {"data":{"name":"med"},"transform":[{"filter":"datum.p=='kP'"}],"mark":{"type":"tick","orient":"horizontal","size":7,"thickness":2,"color":"#e32219"}}
      ]}
    ]},
    {"title":{"text":" ","anchor":"start","frame":"bounds","fontSize":18,"fontWeight":"bold","offset":-2},"hconcat":[
     {"width":86,"height":74,"title":{"text":"Ln","offset":-7},
      "encoding":{"x":{"field":"g","type":"quantitative","scale":{"domain":[0.5,3.5],"nice":false,"zero":false},"axis":{"values":[0.5,1.5,2.5],"labelExpr":"format(datum.value+0.5,'d')","labelOffset":14.33,"title":null}},
       "y":{"field":"v","type":"quantitative","scale":{"domain":[0,100],"nice":false,"zero":false},"axis":{"values":[0,20,40,60,80,100],"format":"d","title":"%","titleX":-20,"titleY":30}}},
      "layer":[
       {"data":{"name":"pts"},"transform":[{"filter":"datum.p=='kL'"}],"mark":{"type":"circle","size":11,"color":"#000","opacity":1}},
       {"data":{"name":"med"},"transform":[{"filter":"datum.p=='kL'"}],"mark":{"type":"tick","orient":"horizontal","size":7,"thickness":2,"color":"#e32219"}}
      ]}
    ]}
   ]},
   {"spacing":5,"title":{"text":"CD2⁺ γδ T cells","anchor":"middle","frame":"bounds","offset":-8,"dx":-10},"hconcat":[
    {"title":{"text":"l","anchor":"start","frame":"bounds","fontSize":18,"fontWeight":"bold","offset":-2,"dx":3},"hconcat":[
     {"width":94,"height":74,"title":{"text":"PBMC, T2","offset":-7},
      "encoding":{"x":{"field":"g","type":"quantitative","scale":{"domain":[0.5,3.5],"nice":false,"zero":false},"axis":{"values":[0.5,1.5,2.5],"labelExpr":"format(datum.value+0.5,'d')","labelOffset":15.67,"title":null}},
       "y":{"field":"v","type":"quantitative","scale":{"domain":[0,0.15],"nice":false,"zero":false},"axis":{"values":[0,0.03,0.06,0.09,0.12,0.15],"format":".2f","title":"G/L","titleY":22}}},
      "layer":[
       {"data":{"name":"pts"},"transform":[{"filter":"datum.p=='lP'"}],"mark":{"type":"circle","size":11,"color":"#000","opacity":1}},
       {"data":{"name":"med"},"transform":[{"filter":"datum.p=='lP'"}],"mark":{"type":"tick","orient":"horizontal","size":7,"thickness":2,"color":"#e32219"}}
      ]}
    ]},
    {"title":{"text":"m","anchor":"end","frame":"bounds","fontSize":18,"fontWeight":"bold","offset":-2,"dx":21},"hconcat":[
     {"width":97,"height":74,"title":{"text":"Ln","offset":-7},
      "encoding":{"x":{"field":"g","type":"quantitative","scale":{"domain":[0.5,3.5],"nice":false,"zero":false},"axis":{"values":[0.5,1.5,2.5],"labelExpr":"format(datum.value+0.5,'d')","labelOffset":16.17,"title":null}},
       "y":{"field":"v","type":"quantitative","scale":{"domain":[0,60],"nice":false,"zero":false},"axis":{"values":[0,12,24,36,48,60],"labelExpr":"datum.value==60?'6 0':format(datum.value,'d')","title":"%","titleX":-20,"titleY":30}}},
      "layer":[
       {"data":{"name":"pts"},"transform":[{"filter":"datum.p=='lL'"}],"mark":{"type":"circle","size":11,"color":"#000","opacity":1}},
       {"data":{"name":"med"},"transform":[{"filter":"datum.p=='lL'"}],"mark":{"type":"tick","orient":"horizontal","size":7,"thickness":2,"color":"#e32219"}}
      ]}
    ]}
   ]}
   ]},
   {"spacing":5.4,"title":{"text":"CD2⁺CD8⁺ γδ T cells","anchor":"middle","frame":"bounds","offset":-8,"dx":-18.2},"hconcat":[
    {"title":{"text":" ","anchor":"start","frame":"bounds","fontSize":18,"fontWeight":"bold","offset":-2},"hconcat":[
     {"width":86,"height":74,"title":{"text":"PBMC, T2","offset":-7},
      "encoding":{"x":{"field":"g","type":"quantitative","scale":{"domain":[0.5,3.5],"nice":false,"zero":false},"axis":{"values":[0.5,1.5,2.5],"labelExpr":"format(datum.value+0.5,'d')","labelOffset":14.33,"title":null}},
       "y":{"field":"v","type":"quantitative","scale":{"domain":[0,0.05],"nice":false,"zero":false},"axis":{"values":[0,0.01,0.02,0.03,0.04,0.05],"format":".2f","title":"G/L","titleY":22}}},
      "layer":[
       {"data":{"name":"pts"},"transform":[{"filter":"datum.p=='mP'"}],"mark":{"type":"circle","size":11,"color":"#000","opacity":1}},
       {"data":{"name":"med"},"transform":[{"filter":"datum.p=='mP'"}],"mark":{"type":"tick","orient":"horizontal","size":7,"thickness":2,"color":"#e32219"}}
      ]}
    ]},
    {"title":{"text":" ","anchor":"start","frame":"bounds","fontSize":18,"fontWeight":"bold","offset":-2},"hconcat":[
     {"width":95,"height":74,"title":{"text":"Ln","offset":-11.5},
      "encoding":{"x":{"field":"g","type":"quantitative","scale":{"domain":[0.5,3.5],"nice":false,"zero":false},"axis":{"values":[0.5,1.5,2.5],"labelExpr":"format(datum.value+0.5,'d')","labelOffset":15.83,"title":null}},
       "y":{"field":"v","type":"quantitative","scale":{"domain":[0,100],"nice":false,"zero":false},"axis":{"values":[0,20,40,60,80,100],"format":"d","title":"%","titleX":-20,"titleY":30}}},
      "layer":[
       {"data":{"name":"pts"},"transform":[{"filter":"datum.p=='mL'"}],"mark":{"type":"circle","size":11,"color":"#000","opacity":1}},
       {"data":{"name":"med"},"transform":[{"filter":"datum.p=='mL'"}],"mark":{"type":"tick","orient":"horizontal","size":7,"thickness":2,"color":"#e32219"}},
       {"data":{"name":"sig"},"transform":[{"filter":"datum.p=='mL'"}],"mark":{"type":"rule","color":"#333","stroke":"#333","strokeWidth":1.2},"encoding":{"x2":{"field":"g2"}}},
       {"data":{"name":"star"},"transform":[{"filter":"datum.p=='mL'"}],"mark":{"type":"text","text":"*","fontSize":10,"baseline":"alphabetic","align":"center","color":"#222","fill":"#222"}}
      ]}
    ]}
   ]}
  ]}
 ]}
 ]}
]
}
